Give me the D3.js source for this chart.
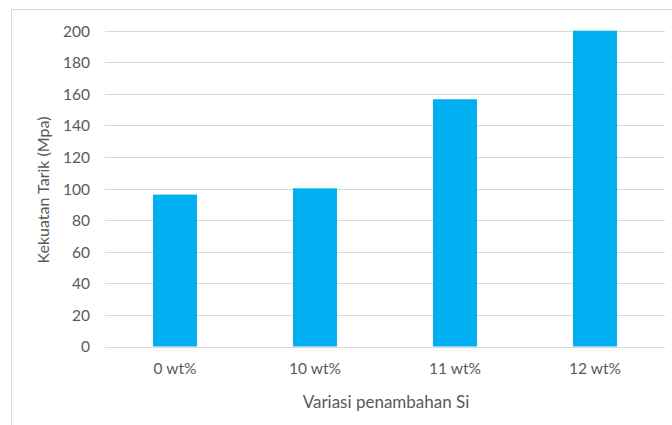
<!DOCTYPE html>
<html><head><meta charset="utf-8">
<script src="https://cdn.jsdelivr.net/npm/d3@7"></script>
<style>html,body{margin:0;padding:0;background:#fff;}svg{display:block;}</style>
</head><body>
<script>
const categories = ["0 wt%", "10 wt%", "11 wt%", "12 wt%"];
const values = [96.2, 100.2, 156.6, 200];
const yTicks = [0, 20, 40, 60, 80, 100, 120, 140, 160, 180, 200];
const yTitle = "Kekuatan Tarik (Mpa)";
const xTitle = "Variasi penambahan Si";

const W = 672, H = 425;
const svg = d3.select("body").append("svg").attr("width", W).attr("height", H);
const font = "Lato, 'Open Sans', sans-serif";
const textColor = "#595959";

svg.append("rect").attr("x", 11.5).attr("y", 9.5).attr("width", 800).attr("height", 600)
  .attr("fill", "#fff").attr("stroke", "#d9d9d9").attr("stroke-width", 1);

const x = d3.scaleBand().domain(categories).range([105, 665]).paddingInner(0).paddingOuter(0);
const y = d3.scaleLinear().domain([0, 200]).range([346.5, 30.7]);

const grid = svg.append("g");
grid.selectAll("line").data(yTicks).join("line")
  .attr("x1", 105).attr("x2", 665)
  .attr("y1", d => Math.round(y(d)) + 0.5).attr("y2", d => Math.round(y(d)) + 0.5)
  .attr("stroke", "#d9d9d9").attr("stroke-width", 1);

const bw = x.step() * 0.314;
svg.append("g").selectAll("rect").data(values).join("rect")
  .attr("x", (d, i) => x(categories[i]) + x.bandwidth() / 2 - bw / 2)
  .attr("width", bw)
  .attr("y", d => y(d))
  .attr("height", d => y(0) - y(d))
  .attr("fill", "#00b0f0");

const yAxis = d3.axisLeft(y).tickValues(yTicks).tickSize(0).tickPadding(0);
const gy = svg.append("g").attr("transform", "translate(90,0)").call(yAxis);
gy.select(".domain").remove();
gy.selectAll("text").attr("fill", textColor).style("font-family", font).style("font-size", "15.5px").attr("dy", "0.35em");

const xAxis = d3.axisBottom(x).tickSize(0).tickPadding(0);
const gx = svg.append("g").attr("transform", "translate(0,363)").call(xAxis);
gx.select(".domain").remove();
gx.selectAll("text").attr("fill", textColor).style("font-family", font).style("font-size", "15.5px").attr("dy", "0.71em");

svg.append("text").attr("x", 386).attr("y", 402).attr("text-anchor", "middle").attr("dy", "0.35em")
  .attr("fill", textColor).style("font-family", font).style("font-size", "17px").text(xTitle);

svg.append("text").attr("transform", "translate(43,190) rotate(-90)").attr("text-anchor", "middle").attr("dy", "0.35em")
  .attr("fill", textColor).style("font-family", font).style("font-size", "16px").text(yTitle);
</script>
</body></html>
